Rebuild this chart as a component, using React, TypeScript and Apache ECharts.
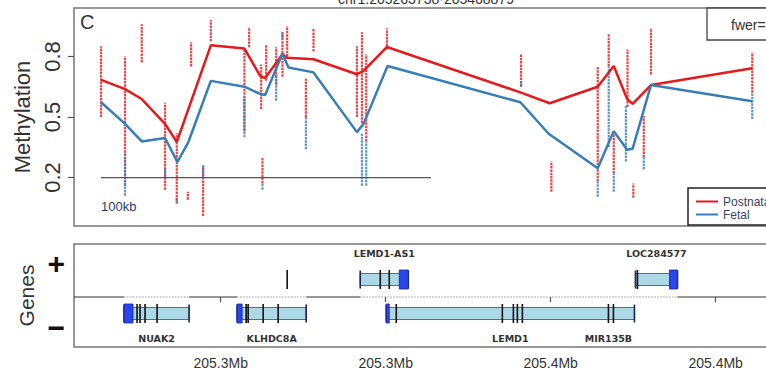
import React, { useEffect, useRef } from "react";
import * as echarts from "echarts";

const TITLE = "chr1:205263738-205468879";
const X_MIN = 205255532;
const X_MAX = 205477085;

// Smoothed methylation profiles [position (bp), methylation]
const postnatalLine: [number, number][] = [
  [205263738, 0.684], [205271002, 0.638], [205276067, 0.589], [205283135, 0.466],
  [205286684, 0.376], [205296997, 0.855], [205307189, 0.839], [205311951, 0.704],
  [205313468, 0.693], [205318716, 0.811], [205320141, 0.794], [205328119, 0.786],
  [205341284, 0.712], [205343286, 0.729], [205350383, 0.847], [205390817, 0.622],
  [205399704, 0.568], [205414263, 0.65], [205419118, 0.753], [205423182, 0.589],
  [205424852, 0.565], [205430403, 0.658], [205461101, 0.742],
];
const fetalLine: [number, number][] = [
  [205263738, 0.573], [205271002, 0.466], [205276067, 0.379], [205283135, 0.396],
  [205286866, 0.277], [205290200, 0.376], [205296997, 0.679], [205307189, 0.65],
  [205311951, 0.614], [205313468, 0.609], [205318716, 0.814], [205320537, 0.745],
  [205328119, 0.721], [205341284, 0.425], [205343286, 0.466], [205350566, 0.753],
  [205390817, 0.573], [205399400, 0.417], [205414263, 0.246], [205419118, 0.43],
  [205423182, 0.338], [205424852, 0.343], [205430403, 0.658], [205461101, 0.578],
];

// Per-CpG sample spreads [position, low, high]
const postnatalStrips: [number, number, number][] = [
  [205263738, 0.5, 0.85], [205271002, 0.16, 0.8], [205276067, 0.77, 0.96],
  [205283135, 0.14, 0.57], [205286684, 0.07, 0.42], [205290021, 0.09, 0.13],
  [205291022, 0.75, 0.87], [205294662, 0.01, 0.26], [205296997, 0.875, 0.98],
  [205307189, 0.43, 0.84], [205308615, 0.845, 0.945], [205312254, 0.54, 0.76],
  [205312649, 0.17, 0.3], [205313771, 0.68, 0.86], [205316805, 0.66, 0.845],
  [205318716, 0.7, 0.92], [205320141, 0.8, 0.95], [205325814, 0.5, 0.69],
  [205328119, 0.825, 0.94], [205341284, 0.5, 0.85], [205342800, 0.47, 0.92],
  [205344104, 0.38, 0.81], [205350383, 0.835, 0.94], [205391029, 0.65, 0.81],
  [205400210, 0.13, 0.28], [205414263, 0.18, 0.75], [205417601, 0.75, 0.91],
  [205419118, 0.22, 0.43], [205423300, 0.55, 0.835], [205425054, 0.1, 0.17],
  [205428220, 0.3, 0.505], [205430403, 0.71, 0.94], [205461101, 0.62, 0.82],
];
const fetalStrips: [number, number, number][] = [
  [205271002, 0.11, 0.32], [205283135, 0.2, 0.25], [205286684, 0.08, 0.1],
  [205294662, 0.2, 0.26], [205307189, 0.4, 0.6], [205312649, 0.14, 0.17],
  [205316805, 0.58, 0.71], [205318716, 0.89, 0.92], [205325814, 0.34, 0.5],
  [205342800, 0.16, 0.42], [205344104, 0.16, 0.38], [205391029, 0.65, 0.68],
  [205414263, 0.105, 0.18], [205417601, 0.35, 0.75], [205419118, 0.13, 0.22],
  [205422800, 0.28, 0.56], [205428220, 0.24, 0.3], [205461101, 0.49, 0.62],
];

const yTicks = [0.2, 0.5, 0.8];
const xTicks = [205300000, 205350000, 205400000, 205450000];
const xTickLabels = ["205.3Mb", "205.3Mb", "205.4Mb", "205.4Mb"];
const strandTicks = [0.68, -0.6];
const strandLabels = ["+", "\u2212"];
const scaleBar = { start: 205263738, length: 100000, y: 0.2, label: "100kb" };

type Gene = {
  name: string;
  strand: number;
  start: number;
  end: number;
  cap: [number, number] | null;
  exons: number[];
};
const genes: Gene[] = [
  { name: "NUAK2", strand: -1, start: 205270699, end: 205290415, cap: [205270699, 205273428], exons: [205274642, 205275552, 205277068, 205280708] },
  { name: "KLHDC8A", strand: -1, start: 205304975, end: 205325905, cap: [205304975, 205306491], exons: [205307705, 205308311, 205312861, 205317411] },
  { name: "", strand: 1, start: 205320141, end: 205320141, cap: null, exons: [205320141] },
  { name: "LEMD1-AS1", strand: 1, start: 205342284, end: 205356844, cap: [205354114, 205356844], exons: [205348351, 205351081] },
  { name: "LEMD1", strand: -1, start: 205350171, end: 205425397, cap: [205350171, 205351081], exons: [205353204, 205385357, 205388694, 205389907, 205391424, 205417510, 205419026] },
  { name: "MIR135B", strand: -1, start: 205417510, end: 205417510, cap: null, exons: [] },
  { name: "LOC284577", strand: 1, start: 205425700, end: 205438440, cap: [205436013, 205438440], exons: [205426307] },
];

const RED = "#E41A1C";
const BLUE = "#377EB8";
const FONT = "Liberation Sans, Arial, sans-serif";
const CHART_W = 830;

function mergedExtents(): [number, number][] {
  const ext = genes
    .filter((g) => g.end > g.start)
    .map((g) => [g.start, g.end] as [number, number])
    .sort((a, b) => a[0] - b[0]);
  const out: [number, number][] = [];
  for (const e of ext) {
    const last = out[out.length - 1];
    if (last && e[0] <= last[1] + 1000) last[1] = Math.max(last[1], e[1]);
    else out.push([e[0], e[1]]);
  }
  return out;
}

function stripRenderer(rows: [number, number, number][], color: string) {
  return (params: any, api: any) => {
    const r = rows[params.dataIndex];
    const a = api.coord([r[0], r[1]]);
    const b = api.coord([r[0], r[2]]);
    return {
      type: "line",
      shape: { x1: a[0], y1: a[1], x2: b[0], y2: b[1] },
      style: { stroke: color, lineWidth: 2.2, lineDash: [2.5, 0.8], opacity: 0.8 },
    };
  };
}

export default function App() {
  const ref = useRef<HTMLDivElement>(null);
  useEffect(() => {
    if (!ref.current) return;
    const chart = echarts.init(ref.current, undefined, { renderer: "svg" });

    const geneRender = (params: any, api: any) => {
      const g = genes[params.dataIndex];
      const y0 = api.coord([X_MIN, 0])[1];
      const px = (v: number) => api.coord([v, 0])[0];
      const cy = g.strand > 0 ? y0 - 17.5 : y0 + 16.5;
      const children: any[] = [];
      if (g.end > g.start) {
        children.push({
          type: "rect",
          shape: { x: px(g.start), y: cy - 6, width: px(g.end) - px(g.start), height: 12 },
          style: { fill: "#ADD8E6", stroke: "#4a4a4a", lineWidth: 0.8 },
        });
        for (const v of [g.start, g.end]) {
          children.push({
            type: "line",
            shape: { x1: px(v), y1: cy - 9, x2: px(v), y2: cy + 9 },
            style: { stroke: "#1c2460", lineWidth: 1.6 },
          });
        }
      }
      if (g.cap) {
        children.push({
          type: "rect",
          shape: { x: px(g.cap[0]), y: cy - 9.5, width: Math.max(2, px(g.cap[1]) - px(g.cap[0])), height: 19 },
          style: { fill: "#2B45EE", stroke: "#1a2590", lineWidth: 0.8 },
        });
      }
      for (const v of g.exons) {
        children.push({
          type: "line",
          shape: { x1: px(v), y1: cy - 9.5, x2: px(v), y2: cy + 9.5 },
          style: { stroke: "#111", lineWidth: 1.6 },
        });
      }
      if (g.name) {
        children.push({
          type: "text",
          style: {
            text: g.name,
            x: px((g.start + g.end) / 2),
            y: g.strand > 0 ? y0 - 44 : y0 + 41,
            align: "center",
            verticalAlign: "middle",
            fontFamily: "DejaVu Sans, sans-serif",
            fontWeight: "bold",
            fontSize: 9.5,
            fill: "#333",
          },
        });
      }
      return { type: "group", children };
    };

    const dividerRender = (params: any, api: any) => {
      const y0 = api.coord([X_MIN, 0])[1];
      const px = (v: number) => api.coord([v, 0])[0];
      const children: any[] = [];
      let cur = X_MIN;
      const seg = (a: number, b: number, dotted: boolean) => ({
        type: "line",
        shape: { x1: px(a), y1: y0, x2: px(b), y2: y0 },
        style: dotted
          ? { stroke: "#999", lineWidth: 1, lineDash: [1.5, 1.5] }
          : { stroke: "#333", lineWidth: 1 },
      });
      for (const [s, e] of mergedExtents()) {
        children.push(seg(cur, s, false));
        children.push(seg(s, e, true));
        cur = e;
      }
      children.push(seg(cur, X_MAX, false));
      return { type: "group", children };
    };

    const scaleRender = (params: any, api: any) => {
      const a = api.coord([scaleBar.start, scaleBar.y]);
      const b = api.coord([scaleBar.start + scaleBar.length, scaleBar.y]);
      return {
        type: "group",
        children: [
          { type: "line", shape: { x1: a[0], y1: a[1], x2: b[0], y2: b[1] }, style: { stroke: "#555", lineWidth: 1.3 } },
          {
            type: "text",
            style: {
              text: scaleBar.label, x: a[0], y: a[1] + 29, align: "left", verticalAlign: "middle",
              fontFamily: FONT, fontSize: 13, fill: "#2e3a66",
            },
          },
        ],
      };
    };

    chart.setOption({
      animation: false,
      backgroundColor: "#fff",
      textStyle: { fontFamily: FONT },
      grid: [
        { left: 74, top: 8, width: 731, height: 218, show: true, borderColor: "#777", borderWidth: 1.5, backgroundColor: "transparent" },
        { left: 74, top: 244, width: 731, height: 103, show: true, borderColor: "#777", borderWidth: 1.5, backgroundColor: "transparent" },
      ],
      xAxis: [
        { type: "value", gridIndex: 0, min: X_MIN, max: X_MAX, show: false, splitLine: { show: false } },
        {
          type: "value", gridIndex: 1, min: X_MIN, max: X_MAX, splitLine: { show: false },
          axisLine: { show: false },
          axisTick: { show: true, customValues: xTicks, length: 5, lineStyle: { color: "#555", width: 1.2 } },
          axisLabel: {
            customValues: xTicks, margin: 9, fontSize: 14, color: "#333", fontFamily: FONT,
            formatter: (v: number) => xTickLabels[xTicks.indexOf(v)] ?? "",
          },
        },
      ],
      yAxis: [
        {
          type: "value", gridIndex: 0, min: -0.04, max: 1.04, splitLine: { show: false },
          axisLine: { show: false },
          axisTick: { show: true, customValues: yTicks, length: 6, lineStyle: { color: "#555", width: 1.2 } },
          axisLabel: {
            customValues: yTicks, rotate: 90, margin: 11, fontSize: 22, color: "#333", fontFamily: FONT,
            formatter: (v: number) => v.toFixed(1),
          },
          name: "Methylation", nameLocation: "middle", nameGap: 37, nameRotate: 90,
          nameTextStyle: { fontSize: 22, color: "#333", fontFamily: FONT },
        },
        {
          type: "value", gridIndex: 1, min: -1, max: 1.06, splitLine: { show: false },
          axisLine: { show: false }, axisTick: { show: false },
          axisLabel: {
            customValues: strandTicks, margin: 9, fontSize: 30, fontWeight: "bold", color: "#111", fontFamily: FONT,
            formatter: (v: number) => strandLabels[strandTicks.indexOf(v)] ?? "",
          },
          name: "Genes", nameLocation: "middle", nameGap: 37, nameRotate: 90,
          nameTextStyle: { fontSize: 21, color: "#333", fontFamily: FONT },
        },
      ],
      legend: {
        left: 688, top: 188, orient: "vertical", itemGap: 0, itemWidth: 22, itemHeight: 2,
        padding: [7, 70, 4, 8], borderColor: "#222", borderWidth: 1.5, backgroundColor: "#fff",
        icon: "rect",
        textStyle: { fontSize: 12, color: "#3b4660", lineHeight: 13, fontFamily: FONT },
        data: ["Postnatal", "Fetal"],
      },
      graphic: [
        {
          type: "text",
          style: { text: TITLE, x: 426, y: -1, align: "center", verticalAlign: "middle", fontSize: 14, fill: "#333", fontFamily: FONT },
        },
        {
          type: "text",
          style: { text: "C", x: 80, y: 22, align: "left", verticalAlign: "middle", fontSize: 20, fill: "#333", fontFamily: FONT },
        },
        {
          type: "rect", shape: { x: 707, y: 8, width: 120, height: 32 },
          style: { fill: "#fff", stroke: "#444", lineWidth: 1.3 },
        },
        {
          type: "text",
          style: { text: "fwer=0", x: 731, y: 25, align: "left", verticalAlign: "middle", fontSize: 14, fill: "#333", fontFamily: FONT },
        },
      ],
      series: [
        {
          type: "custom", name: "postnatalStrips", xAxisIndex: 0, yAxisIndex: 0,
          renderItem: stripRenderer(postnatalStrips, RED), data: postnatalStrips, clip: true, z: 1,
        },
        {
          type: "custom", name: "fetalStrips", xAxisIndex: 0, yAxisIndex: 0,
          renderItem: stripRenderer(fetalStrips, BLUE), data: fetalStrips, clip: true, z: 1,
        },
        {
          type: "custom", name: "scale", xAxisIndex: 0, yAxisIndex: 0,
          renderItem: scaleRender, data: [[scaleBar.start, scaleBar.y]], z: 2,
        },
        {
          type: "line", name: "Postnatal", xAxisIndex: 0, yAxisIndex: 0, data: postnatalLine,
          showSymbol: false, symbol: "none", lineStyle: { color: RED, width: 2.5 }, itemStyle: { color: RED }, z: 3,
        },
        {
          type: "line", name: "Fetal", xAxisIndex: 0, yAxisIndex: 0, data: fetalLine,
          showSymbol: false, symbol: "none", lineStyle: { color: BLUE, width: 2.5 }, itemStyle: { color: BLUE }, z: 3,
        },
        {
          type: "custom", name: "divider", xAxisIndex: 1, yAxisIndex: 1,
          renderItem: dividerRender, data: [[X_MIN, 0]], z: 1,
        },
        {
          type: "custom", name: "genes", xAxisIndex: 1, yAxisIndex: 1,
          renderItem: geneRender, data: genes.map((g) => [g.start, g.end]), z: 2,
        },
      ],
    });
    return () => chart.dispose();
  }, []);
  return (
    <div style={{ position: "absolute", left: 0, top: 0, width: 766, height: 372, overflow: "hidden" }}>
      <div ref={ref} style={{ width: CHART_W, height: 372 }} />
    </div>
  );
}
